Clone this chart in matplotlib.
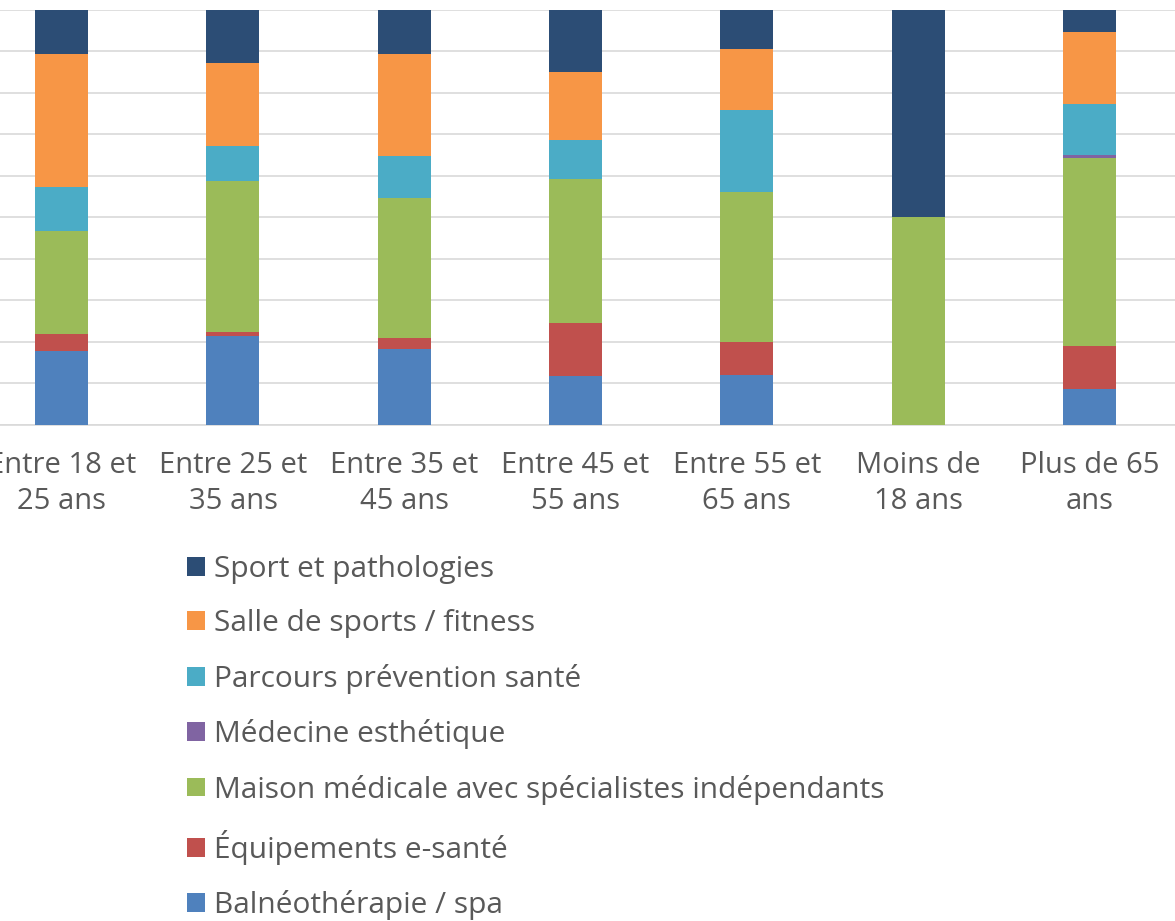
import numpy as np
import matplotlib.pyplot as plt

plt.rcParams['font.family'] = ['Open Sans', 'DejaVu Sans']

categories = ["Entre 18 et\n25 ans", "Entre 25 et\n35 ans", "Entre 35 et\n45 ans",
              "Entre 45 et\n55 ans", "Entre 55 et\n65 ans", "Moins de\n18 ans",
              "Plus de 65\nans"]

# series from bottom to top of each stack (percent)
balneo = [17.9, 21.4, 18.3, 11.7, 12.0, 0.0, 8.6]
equip = [4.0, 1.1, 2.7, 12.8, 7.9, 0.0, 10.5]
maison = [24.8, 36.4, 33.7, 34.8, 36.3, 50.0, 45.2]
medecine = [0.0, 0.0, 0.0, 0.0, 0.0, 0.0, 0.7]
parcours = [10.7, 8.4, 10.0, 9.3, 19.6, 0.0, 12.3]
salle = [31.9, 20.0, 24.6, 16.5, 14.9, 0.0, 17.3]
sport = [10.7, 12.6, 10.7, 14.9, 9.2, 50.0, 5.4]

series = [
    ("Balnéothérapie / spa", balneo, "#4F81BD"),
    ("Équipements e-santé", equip, "#C0504D"),
    ("Maison médicale avec spécialistes indépendants", maison, "#9BBB59"),
    ("Médecine esthétique", medecine, "#8064A2"),
    ("Parcours prévention santé", parcours, "#4BACC6"),
    ("Salle de sports / fitness", salle, "#F79646"),
    ("Sport et pathologies", sport, "#2C4D75"),
]

fig = plt.figure(figsize=(11.75, 9.21), dpi=100)
ax = fig.add_axes([0.0, 1 - 425 / 921, 1.0, 415 / 921])

x = np.arange(len(categories))
bottom = np.zeros(len(categories))
handles = []
for name, vals, color in series:
    b = ax.bar(x, vals, width=0.31, bottom=bottom, color=color, label=name, zorder=3)
    handles.append(b)
    bottom += np.array(vals)

ax.set_xlim(-0.36, 6.5)
ax.set_ylim(0, 100)
ax.set_yticks(np.arange(0, 101, 10))
ax.yaxis.grid(True, color="#d9d9d9", linewidth=1.2, zorder=0)
ax.tick_params(axis="y", left=False, labelleft=False)
ax.set_xticks(x)
ax.set_xticklabels(categories, fontsize=21, color="#595959", linespacing=1.3)
ax.tick_params(axis="x", length=0, pad=19)
for s in ["top", "left", "right"]:
    ax.spines[s].set_visible(False)
ax.spines["bottom"].set_color("#d9d9d9")
ax.spines["bottom"].set_linewidth(1.2)

fig.legend(handles[::-1], [s[0] for s in series][::-1],
           loc="upper left", bbox_to_anchor=(187 / 1175, 1 - 555 / 921),
           frameon=False, fontsize=21.5, labelcolor="#595959",
           handlelength=0.6, handleheight=0.6, handletextpad=0.3,
           labelspacing=0.85, borderpad=0, borderaxespad=0)

fig.savefig("out.png", dpi=100)
